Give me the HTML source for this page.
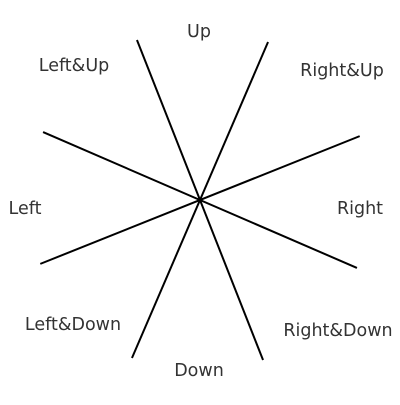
<!DOCTYPE html>
<html><head><meta charset="utf-8"><style>
html,body{margin:0;padding:0;background:#fff;}
svg text{font-family:"DejaVu Sans","Liberation Sans",sans-serif;font-size:17.5px;fill:#333;}
</style></head><body>
<svg id="chart" width="400" height="400" viewBox="0 0 400 400">
<g id="lines"></g>
<text x="199" y="37" text-anchor="middle">Up</text>
<text x="342" y="76" text-anchor="middle">Right&amp;Up</text>
<text x="360" y="214" text-anchor="middle">Right</text>
<text x="338" y="336" text-anchor="middle">Right&amp;Down</text>
<text x="199" y="376" text-anchor="middle">Down</text>
<text x="73" y="330" text-anchor="middle">Left&amp;Down</text>
<text x="25" y="214" text-anchor="middle">Left</text>
<text x="74" y="71" text-anchor="middle">Left&amp;Up</text>
</svg>
<script>
// line angles in degrees (from +x axis, counterclockwise)
const lineAngles = [111.5, 66.7, 156.6, 21.8];
const lineHalfLengths = [172, 172, 171, 172];
const cx = 200, cy = 200;
const g = document.getElementById('lines');
lineAngles.forEach(function(a, i){
  const r = a * Math.PI / 180, L = lineHalfLengths[i];
  const dx = Math.cos(r) * L, dy = -Math.sin(r) * L;
  const ln = document.createElementNS('http://www.w3.org/2000/svg', 'line');
  ln.setAttribute('x1', cx + dx); ln.setAttribute('y1', cy + dy);
  ln.setAttribute('x2', cx - dx); ln.setAttribute('y2', cy - dy);
  ln.setAttribute('stroke', '#000'); ln.setAttribute('stroke-width', '2');
  
  
  g.appendChild(ln);
});
</script>
</body></html>
